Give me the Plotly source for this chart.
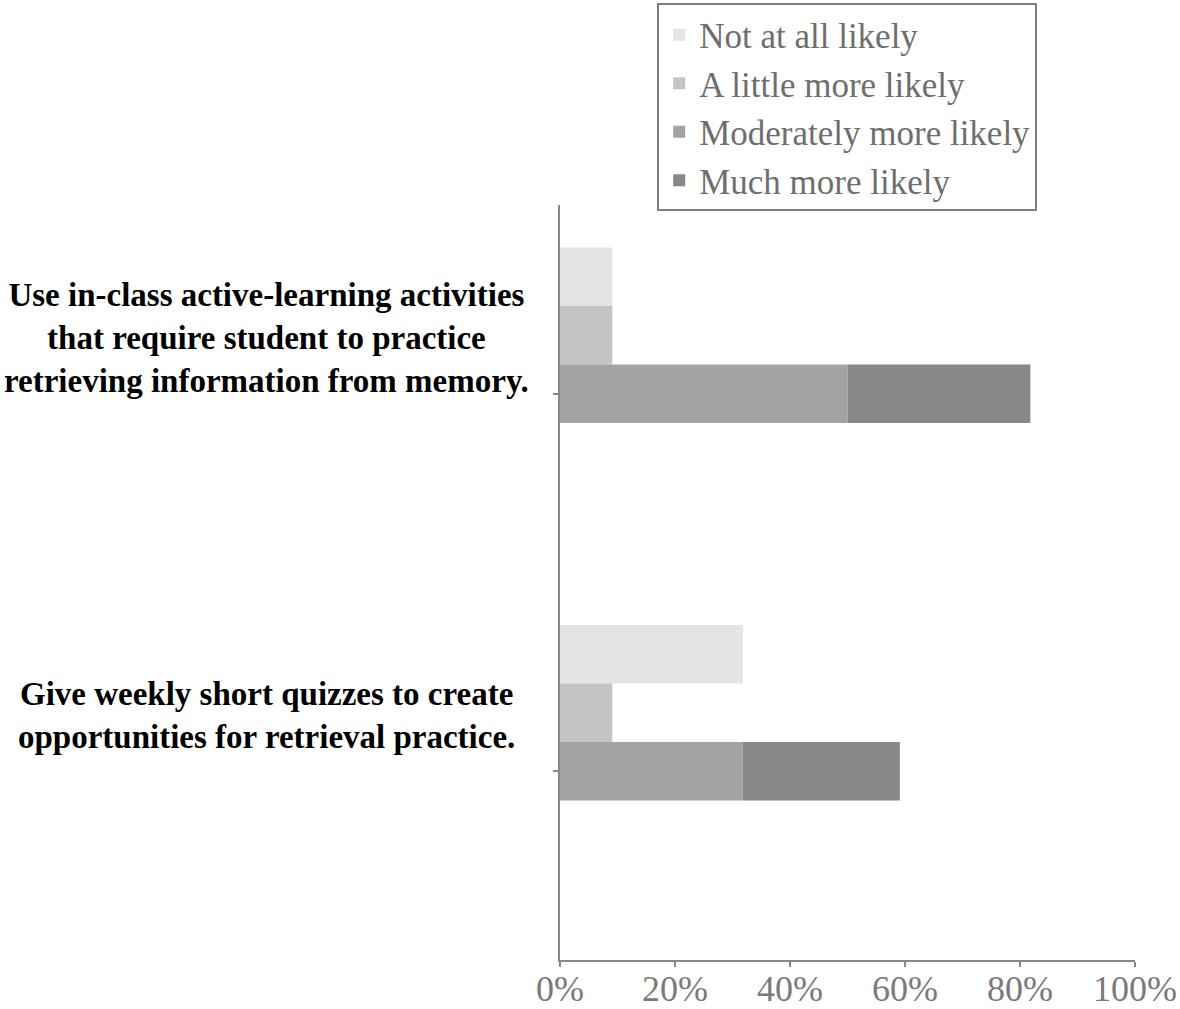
import plotly.graph_objects as go

# survey items (top to bottom)
items = ["in_class", "weekly_quiz"]
item_labels = [
    "Use in-class active-learning activities<br>that require student to practice<br>retrieving information from memory.",
    "Give weekly short quizzes to create<br>opportunities for retrieval practice.",
]

# percent of respondents per response
not_at_all = [9.1, 31.8]
a_little = [9.1, 9.1]
moderately = [50.0, 31.8]
much_more = [31.8, 27.3]

SERIF = "Liberation Serif"
GREY_TEXT = "#7a7a7a"
AXIS = "#888888"
BAR_W = 0.155

fig = go.Figure()
fig.add_trace(go.Bar(
    name="Not at all likely", y=items, x=not_at_all, orientation="h",
    width=BAR_W, offset=-0.0775 - 2 * BAR_W, marker=dict(color="#e4e4e4", line_width=0),
))
fig.add_trace(go.Bar(
    name="A little more likely", y=items, x=a_little, orientation="h",
    width=BAR_W, offset=-0.0775 - BAR_W, marker=dict(color="#c4c4c4", line_width=0),
))
fig.add_trace(go.Bar(
    name="Moderately more likely", y=items, x=moderately, orientation="h",
    width=BAR_W, offset=-0.0775, marker=dict(color="#a3a3a3", line_width=0),
))
fig.add_trace(go.Bar(
    name="Much more likely", y=items, x=much_more, base=moderately, orientation="h",
    width=BAR_W, offset=-0.0775, marker=dict(color="#888888", line_width=0),
))

# centred, multi-line category labels sitting a little above each tick
for item, label in zip(items, item_labels):
    fig.add_annotation(
        x=-0.511, xref="paper", xanchor="center",
        y=item, yref="y", yanchor="middle", yshift=56,
        text=f"<b>{label}</b>", align="center", showarrow=False,
        font=dict(family=SERIF, size=33, color="#000000"),
    )

fig.update_layout(
    width=1180, height=1009,
    margin=dict(l=560, r=45, t=205, b=49, autoexpand=False),
    barmode="overlay",
    plot_bgcolor="white", paper_bgcolor="white",
    showlegend=True,
    legend=dict(
        x=0.169, y=1.267, xanchor="left", yanchor="top",
        font=dict(family=SERIF, size=35, color="#6e6e6e"),
        bordercolor="#7f7f7f", borderwidth=2, bgcolor="white",
        traceorder="normal",
    ),
    xaxis=dict(
        range=[0, 100], dtick=20, ticksuffix="%",
        showgrid=False, zeroline=False,
        showline=True, linecolor=AXIS, linewidth=2,
        ticks="outside", ticklen=5, tickcolor=AXIS, tickwidth=2,
        ticklabelstandoff=-9,
        tickfont=dict(family=SERIF, size=36, color=GREY_TEXT),
    ),
    yaxis=dict(
        range=[1.5, -0.5], categoryorder="array", categoryarray=items,
        showgrid=False, zeroline=False,
        showline=True, linecolor=AXIS, linewidth=2,
        ticks="outside", ticklen=5, tickcolor=AXIS, tickwidth=2,
        showticklabels=False,
    ),
)

# drop the browser's default 8px body margin so the figure sits at the page corner
fig.write_html(
    "out.html",
    config={"displayModeBar": False},
    post_script="document.body.style.margin = '0';",
)
